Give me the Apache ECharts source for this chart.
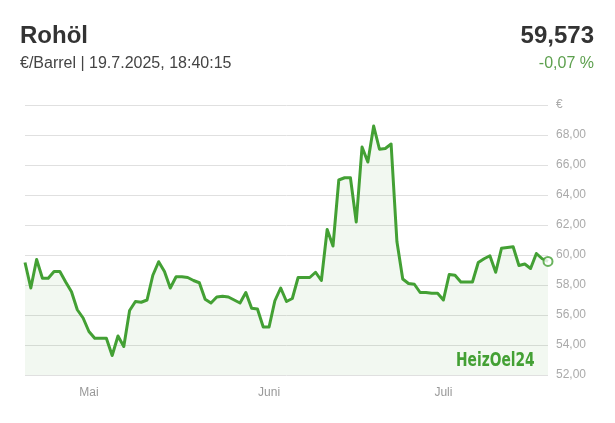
<!DOCTYPE html>
<html>
<head>
<meta charset="utf-8">
<script src="https://cdn.jsdelivr.net/npm/echarts@6/dist/echarts.min.js"></script>
<style>
html,body{margin:0;padding:0;background:#fff;}
#c{width:615px;height:423px;}
</style>
</head>
<body>
<div id="c"></div>
<script>
// Daily dates from 20.4.2025 to 19.7.2025
const startDate = '2025-04-20';
const dayCount = 91;
const dates = [];
(function(){
  const d0 = new Date(startDate + 'T00:00:00Z');
  for (let i = 0; i < dayCount; i++) {
    const d = new Date(d0.getTime() + i * 86400000);
    dates.push(d.toISOString().slice(0, 10));
  }
})();

// Crude oil price €/Barrel
const prices = [
  59.5, 57.8, 59.7, 58.45, 58.45, 58.9, 58.9, 58.2, 57.55, 56.35,
  55.8, 54.9, 54.45, 54.45, 54.45, 53.3, 54.6, 53.9, 56.3, 56.9,
  56.85, 57.0, 58.65, 59.55, 58.9, 57.8, 58.55, 58.55, 58.5, 58.3,
  58.15, 57.05, 56.8, 57.2, 57.25, 57.2, 57.0, 56.8, 57.5, 56.45,
  56.4, 55.2, 55.2, 56.95, 57.8, 56.9, 57.1, 58.5, 58.5, 58.5,
  58.85, 58.3, 61.7, 60.6, 65.0, 65.15, 65.15, 62.2, 67.2, 66.2,
  68.6, 67.05, 67.1, 67.4, 60.9, 58.4, 58.1, 58.05, 57.5, 57.5,
  57.45, 57.45, 57.0, 58.7, 58.65, 58.2, 58.2, 58.2, 59.5, 59.75,
  59.95, 58.85, 60.45, 60.5, 60.55, 59.3, 59.4, 59.1, 60.1, 59.75,
  59.573
];

const monthNames = {'05': 'Mai', '06': 'Juni', '07': 'Juli'};
const yTicks = [52, 54, 56, 58, 60, 62, 64, 66, 68, 70];
const topTickLabel = '€';

const titleText = 'Rohöl';
const subtitleText = '€/Barrel | 19.7.2025, 18:40:15';
const currentValue = '59,573';
const changeText = '-0,07 %';
const brandText = 'HeizOel24';

const green = '#43a034';
const chart = echarts.init(document.getElementById('c'), null, {renderer: 'canvas'});
const lastIdx = prices.length - 1;

chart.setOption({
  animation: false,
  backgroundColor: '#fff',
  grid: {left: 25, right: 67, top: 105, bottom: 48, containLabel: false},
  graphic: [
    {type: 'text', left: 20, top: 24, style: {text: titleText, font: 'bold 24px "Liberation Sans", Arial, sans-serif', fill: '#333'}},
    {type: 'text', left: 20, top: 56, style: {text: subtitleText, font: '16px "Liberation Sans", Arial, sans-serif', fill: '#444'}},
    {type: 'text', right: 21, top: 24, style: {text: currentValue, font: 'bold 24px "Liberation Sans", Arial, sans-serif', fill: '#333', textAlign: 'right'}},
    {type: 'text', right: 21, top: 56, style: {text: changeText, font: '16px "Liberation Sans", Arial, sans-serif', fill: '#5da04e', textAlign: 'right'}},
    {type: 'text', x: 456, y: 351, scaleX: 0.69, z: 10, style: {text: brandText, font: 'bold 20px "DejaVu Sans", sans-serif', fill: '#43a034'}}
  ],
  xAxis: {
    type: 'category',
    data: dates,
    boundaryGap: false,
    axisLine: {show: false},
    axisTick: {show: false},
    splitLine: {show: false},
    axisLabel: {
      interval: function (idx, val) { return val.slice(8, 10) === '01'; },
      formatter: function (val) { return monthNames[val.slice(5, 7)] || ''; },
      color: '#999',
      fontSize: 12,
      fontFamily: '"Liberation Sans", Arial, sans-serif',
      margin: 12
    }
  },
  yAxis: {
    type: 'value',
    position: 'right',
    min: yTicks[0],
    max: yTicks[yTicks.length - 1],
    interval: 2,
    axisLine: {show: false},
    axisTick: {show: false},
    splitLine: {lineStyle: {color: '#e0e0e0', width: 1}},
    axisLabel: {
      color: '#aaa',
      fontSize: 12,
      fontFamily: '"Liberation Sans", Arial, sans-serif',
      margin: 8,
      formatter: function (v) { return v === yTicks[yTicks.length - 1] ? topTickLabel : v.toFixed(2).replace('.', ','); }
    }
  },
  series: [
    {
      type: 'line',
      data: prices,
      symbol: 'none',
      lineStyle: {color: green, width: 3, join: 'round'},
      areaStyle: {color: 'rgba(67,160,52,0.1)'},
      z: 3
    },
    {
      type: 'scatter',
      data: [[dates[lastIdx], prices[lastIdx]]],
      symbol: 'circle',
      symbolSize: 9,
      itemStyle: {color: '#fff', borderColor: green, borderWidth: 2},
      z: 5
    }
  ]
});
</script>
</body>
</html>
